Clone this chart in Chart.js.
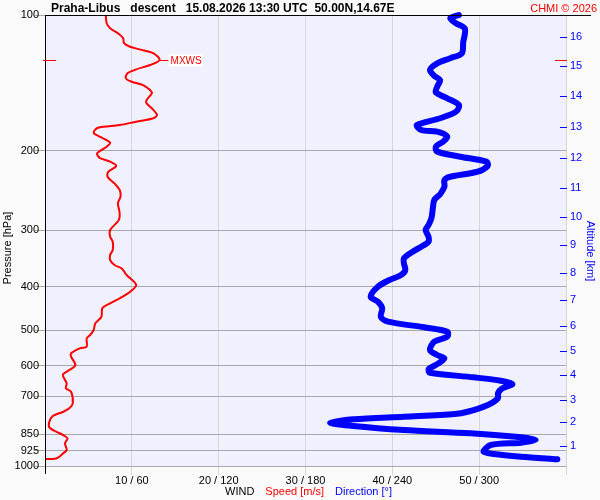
<!DOCTYPE html>
<html lang="cs">
<head>
<meta charset="UTF-8">
<title>Praha-Libus descent</title>
<script src="https://cdn.jsdelivr.net/npm/chart.js"></script>
<style>
  body { margin: 0; background: #fafafa; }
</style>
</head>
<body>
<canvas id="canvas" width="600" height="500"></canvas>
<script>
// wind speed profile [m/s] against pressure [hPa]
const speedPressure = [100, 104.3, 107.0, 109.8, 112.6, 115.5, 117.6, 119.2, 121.6, 125.8,
  129.1, 132.0, 134.7, 138.2, 140.6, 143.0, 146.7, 149.2, 154.3, 157.0,
  161.0, 166.6, 169.4, 172.4, 175.4, 177.8, 182.4, 186.1, 191.9, 195.9,
  202.6, 207.3, 211.5, 216.2, 222.6, 228.4, 236.3, 244.3, 252.8, 261.5,
  275.3, 284.8, 299.7, 310.1, 318.2, 331.9, 340.5, 349.3, 358.4, 364.5,
  377.2, 396.9, 410.7, 424.9, 435.8, 447.1, 466.7, 482.7, 499.4, 512.3,
  521.1, 543.9, 548.3, 562.5, 572.3, 597.2, 612.6, 625.2, 633.9, 655.6,
  672.5, 684.3, 726.1, 745.0, 758.0, 774.8, 797.7, 820.8, 839.4, 853.8,
  868.3, 890.8, 921.5, 937.2, 958.5, 965.0, 965.0];
const speedValues = [7.0, 7.1, 7.5, 8.4, 9.0, 9.1, 9.8, 10.9, 12.5, 13.2,
  12.1, 10.5, 9.5, 9.3, 10.0, 11.3, 12.1, 12.3, 11.7, 11.7,
  12.3, 12.9, 12.5, 10.5, 8.6, 6.1, 5.6, 6.3, 7.5, 7.1,
  6.0, 6.3, 7.5, 8.2, 7.3, 7.2, 8.0, 8.6, 8.7, 8.4,
  8.6, 8.5, 7.5, 7.5, 7.8, 7.8, 7.5, 7.5, 8.0, 8.8,
  9.4, 10.5, 9.8, 8.6, 7.5, 6.6, 6.5, 5.8, 5.6, 5.2,
  4.8, 4.8, 4.0, 3.0, 3.0, 3.5, 2.8, 2.1, 2.1, 2.5,
  2.4, 3.0, 3.2, 2.8, 2.1, 0.9, 0.5, 0.5, 1.3, 2.1,
  2.6, 2.3, 2.5, 2.1, 1.5, 0.9, 0.1];

// wind direction profile [deg] against pressure [hPa]
const dirPressure = [100, 101.7, 104.3, 107.0, 110.7, 114.6, 121.6, 124.7, 128.0, 132.4,
  136.4, 139.4, 144.2, 148.4, 153.0, 158.3, 163.8, 169.4, 175.4, 179.9,
  181.4, 186.1, 190.9, 195.9, 200.9, 206.2, 211.5, 215.9, 222.6, 228.4,
  232.2, 240.3, 249.7, 257.1, 268.3, 282.3, 292.2, 299.7, 310.1, 318.2,
  326.5, 334.8, 346.3, 355.3, 367.6, 377.2, 386.9, 400.5, 421.4, 432.3,
  447.1, 466.7, 478.6, 492.5, 503.8, 516.8, 530.2, 553.1, 567.4, 577.1,
  592.0, 610.5, 621.2, 635.9, 647.1, 658.0, 672.5, 690.0, 707.6, 732.3,
  758.0, 766.9, 777.5, 788.0, 801.7, 815.4, 832.3, 846.3, 863.9, 875.9,
  887.8, 898.3, 929.6, 940.6, 953.7, 966.3];
const dirValues = [286, 280, 284, 290, 290, 289, 288, 280, 271, 266,
  269, 273, 271, 270, 278, 286, 284, 273, 257, 260,
  271, 278, 275, 270, 271, 287, 305, 306, 299, 280,
  276, 276, 273, 269, 268, 267, 265, 263, 265, 265,
  260, 254, 248, 248, 249, 246, 238, 230, 225, 230,
  233, 232, 237, 262, 278, 278, 269, 266, 271, 276,
  272, 265, 266, 296, 315, 323, 316, 313, 313, 306,
  292, 283, 248, 213, 197, 213, 248, 294, 329, 339,
  329, 308, 303, 310, 329, 354];

const pressureTicks = [100, 200, 300, 400, 500, 600, 700, 850, 925, 1000];
const speedTicks = [10, 20, 30, 40, 50];
const dirTicks = [60, 120, 180, 240, 300];
const altitudeLabels = [1, 2, 3, 4, 5, 6, 7, 8, 9, 10, 11, 12, 13, 14, 15, 16];
const altitudePressures = [901.6, 800, 712.8, 629.4, 555.9, 488.6, 428.4, 373.9,
  324.1, 281, 241.8, 207.3, 177.4, 151.2, 129.5, 111.7];

const FONT = '"Liberation Sans", Arial, sans-serif';
const RED = '#ff0000';
const BLUE = '#0000ff';

// max wind (MXWS) taken from the speed profile
const mxwsIndex = speedValues.indexOf(Math.max(...speedValues));

const decor = {
  id: 'decor',
  beforeDraw(chart) {
    const { ctx, chartArea: a } = chart;
    ctx.save();
    ctx.fillStyle = '#fafafa';
    ctx.fillRect(0, 0, chart.width, chart.height);
    ctx.fillStyle = '#f0f0ff';
    ctx.fillRect(a.left, a.top, a.right - a.left, a.bottom - a.top);
    ctx.restore();
  },
  afterDraw(chart) {
    const { ctx, chartArea: a, scales } = chart;
    ctx.save();
    ctx.lineWidth = 1;

    // frame: left and top black
    ctx.strokeStyle = '#000';
    ctx.beginPath();
    ctx.moveTo(a.left + 0.5, a.bottom + 8);
    ctx.lineTo(a.left + 0.5, a.top + 0.5);
    ctx.lineTo(a.right + 25, a.top + 0.5);
    ctx.stroke();

    // altitude tick marks
    ctx.strokeStyle = BLUE;
    altitudePressures.forEach(p => {
      const y = Math.round(scales.y2.getPixelForValue(p)) + 0.5;
      ctx.beginPath();
      ctx.moveTo(a.right - 6, y);
      ctx.lineTo(a.right + 1, y);
      ctx.stroke();
    });

    // MXWS marks
    const my = Math.round(scales.y.getPixelForValue(speedPressure[mxwsIndex])) + 0.5;
    const mx = scales.x.getPixelForValue(speedValues[mxwsIndex]);
    ctx.strokeStyle = RED;
    ctx.beginPath();
    ctx.moveTo(a.left - 2, my); ctx.lineTo(a.left + 11, my);
    ctx.moveTo(a.right - 11, my); ctx.lineTo(a.right + 1, my);
    ctx.moveTo(mx, my); ctx.lineTo(mx + 9, my);
    ctx.stroke();
    ctx.font = '10px ' + FONT;
    const mw = ctx.measureText('MXWS').width;
    ctx.fillStyle = '#fff';
    ctx.fillRect(mx + 9, my - 6, mw + 3, 12);
    ctx.fillStyle = RED;
    ctx.textBaseline = 'middle';
    ctx.fillText('MXWS', mx + 11, my + 1);

    // header
    ctx.textBaseline = 'alphabetic';
    ctx.fillStyle = '#000';
    ctx.font = 'bold 12px ' + FONT;
    ctx.fillText('Praha-Libus   descent   15.08.2026 13:30 UTC  50.00N,14.67E', 51, 12);
    ctx.fillStyle = RED;
    ctx.font = '11px ' + FONT;
    ctx.textAlign = 'right';
    ctx.fillText('CHMI \u00a9 2026', 597, 12);

    // bottom legend
    ctx.textAlign = 'left';
    let x = 225;
    [['WIND', '#000'], ['Speed [m/s]', RED], ['Direction [\u00b0]', BLUE]].forEach(([t, c]) => {
      ctx.fillStyle = c;
      ctx.fillText(t, x, 495);
      x += ctx.measureText(t).width + 11;
    });

    // axis titles
    ctx.textAlign = 'center';
    ctx.fillStyle = '#000';
    ctx.save();
    ctx.translate(11, 248);
    ctx.rotate(-Math.PI / 2);
    ctx.fillText('Pressure [hPa]', 0, 0);
    ctx.restore();
    ctx.fillStyle = BLUE;
    ctx.save();
    ctx.translate(587, 251);
    ctx.rotate(Math.PI / 2);
    ctx.fillText('Altitude [km]', 0, 0);
    ctx.restore();

    ctx.restore();
  }
};

const ctx = document.getElementById('canvas').getContext('2d');
const chart = new Chart(ctx, {
  type: 'scatter',
  data: {
    datasets: [{
      label: 'Speed',
      data: speedPressure.map((p, i) => ({ x: speedValues[i], y: p })),
      xAxisID: 'x',
      yAxisID: 'y',
      showLine: true,
      borderColor: RED,
      borderWidth: 2,
      pointRadius: 0,
      tension: 0.3,
      clip: 4
    }, {
      label: 'Direction',
      data: dirPressure.map((p, i) => ({ x: dirValues[i], y: p })),
      xAxisID: 'x2',
      yAxisID: 'y',
      showLine: true,
      borderColor: BLUE,
      borderWidth: 6,
      borderJoinStyle: 'round',
      borderCapStyle: 'round',
      pointRadius: 0,
      tension: 0.3,
      clip: 6
    }]
  },
  options: {
    responsive: false,
    animation: false,
    layout: { padding: { top: 15, left: 0, right: 0, bottom: 0 } },
    plugins: { legend: { display: false }, tooltip: { enabled: false } },
    scales: {
      x: {
        type: 'linear',
        position: 'bottom',
        min: 0,
        max: 60,
        afterBuildTicks: s => { s.ticks = speedTicks.concat([60]).map(v => ({ value: v })); },
        afterFit: s => { s.height = 34; },
        ticks: {
          autoSkip: false,
          maxRotation: 0,
          padding: -1,
          color: '#000',
          font: { family: FONT, size: 11 },
          callback: v => {
            const i = speedTicks.indexOf(v);
            return i < 0 ? '' : v + ' / ' + dirTicks[i];
          }
        },
        grid: { color: '#d6d6d6', tickLength: 9 },
        border: { display: false }
      },
      x2: {
        type: 'linear',
        display: false,
        min: 0,
        max: 360
      },
      y: {
        type: 'logarithmic',
        position: 'left',
        reverse: true,
        min: 100,
        max: 1000,
        afterBuildTicks: s => { s.ticks = pressureTicks.map(v => ({ value: v })); },
        afterFit: s => { s.width = 45; },
        ticks: {
          autoSkip: false,
          padding: -4,
          color: '#000',
          font: { family: FONT, size: 11 },
          callback: v => String(v)
        },
        grid: { color: '#a8a8a8', tickLength: 10 },
        border: { display: true, color: '#000' }
      },
      y2: {
        type: 'logarithmic',
        position: 'right',
        reverse: true,
        min: 100,
        max: 1000,
        afterBuildTicks: s => { s.ticks = altitudePressures.map(v => ({ value: v })); },
        afterFit: s => { s.width = 34; },
        ticks: {
          autoSkip: false,
          padding: 4,
          color: BLUE,
          font: { family: FONT, size: 11 },
          callback: (v, i) => String(altitudeLabels[i])
        },
        grid: { display: false, drawTicks: false },
        border: { display: false }
      }
    }
  },
  plugins: [decor]
});
</script>
</body>
</html>
